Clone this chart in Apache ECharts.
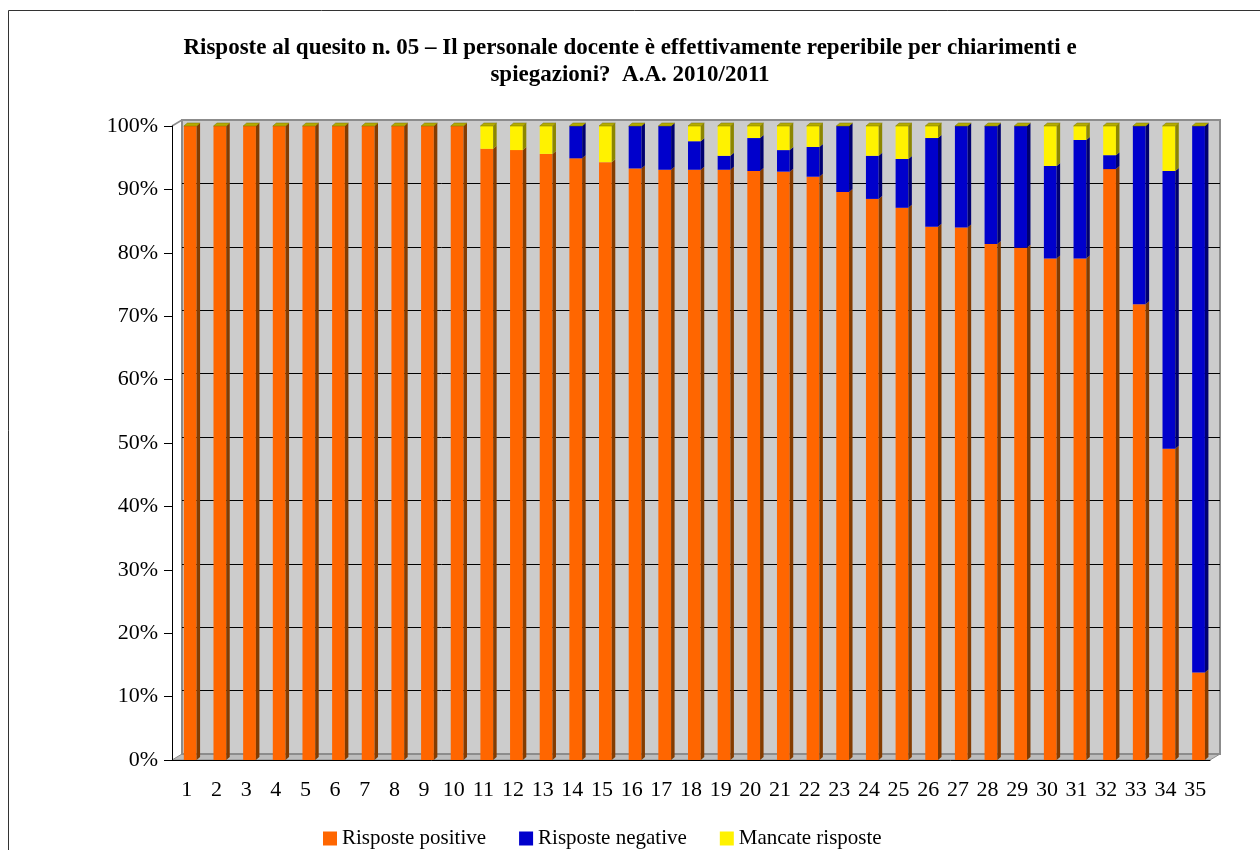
<!DOCTYPE html>
<html>
<head>
<meta charset="utf-8">
<script src="https://cdn.jsdelivr.net/npm/echarts@6/dist/echarts.min.js"></script>
<style>
  html, body { margin: 0; padding: 0; background: #fff; }
  #main { width: 1260px; height: 850px; }
</style>
</head>
<body>
<div id="main"></div>
<script>
// dati (percentuali)
var categorie = [];
for (var k = 1; k <= 35; k++) categorie.push(String(k));

var positive = [100, 100, 100, 100, 100, 100, 100, 100, 100, 100,
  96.4, 96.2, 95.6, 94.9, 94.3, 93.3, 93.1, 93.1, 93.1, 92.9,
  92.8, 92.0, 89.6, 88.5, 87.1, 84.1, 84.0, 81.4, 80.8, 79.1,
  79.1, 93.2, 71.9, 49.1, 13.8];
var negative = [0, 0, 0, 0, 0, 0, 0, 0, 0, 0,
  0, 0, 0, 5.1, 0, 6.7, 6.9, 4.5, 2.2, 5.2,
  3.4, 4.7, 10.4, 6.8, 7.7, 14.0, 16.0, 18.6, 19.2, 14.6,
  18.7, 2.2, 28.1, 43.8, 86.2];
var mancate = [0, 0, 0, 0, 0, 0, 0, 0, 0, 0,
  3.6, 3.8, 4.4, 0, 5.7, 0, 0, 2.4, 4.7, 1.9,
  3.8, 3.3, 0, 4.7, 5.2, 1.9, 0, 0, 0, 6.3,
  2.2, 4.6, 0, 7.1, 0];

var nomi = ['Risposte positive', 'Risposte negative', 'Mancate risposte'];
var colori = ['#FF6600', '#0000CC', '#FFF200'];
var lati = ['#843C00', '#000070', '#8C8600'];
var topColor = '#B5AC00';

var serie = [positive, negative, mancate];

// impila a mano: ogni punto = [indice, base, valore]
function build(idx) {
  var out = [];
  for (var i = 0; i < categorie.length; i++) {
    var base = 0;
    for (var j = 0; j < idx; j++) base += serie[j][i];
    out.push([i, base, serie[idx][i]]);
  }
  return out;
}

function makeRender(idx) {
  return function (params, api) {
    var i = api.value(0), base = api.value(1), val = api.value(2);
    var last = idx === serie.length - 1;
    if (val <= 0 && !last) return null;
    var p0 = api.coord([i, base]);
    var p1 = api.coord([i, base + val]);
    var cw = api.size([1, 0])[0];
    var w = cw * 0.43;
    var x = p0[0] - 3;
    var dx = 3.5, dy = -3;
    var children = [];
    if (val > 0) {
      children.push({
        type: 'rect',
        shape: { x: x, y: p1[1], width: w, height: p0[1] - p1[1] },
        style: { fill: colori[idx] }
      });
      children.push({
        type: 'polygon',
        shape: { points: [[x + w, p0[1]], [x + w + dx, p0[1] + dy], [x + w + dx, p1[1] + dy], [x + w, p1[1]]] },
        style: { fill: lati[idx] }
      });
    }
    if (last) {
      children.push({
        type: 'polygon',
        shape: { points: [[x, p1[1]], [x + dx, p1[1] + dy], [x + w + dx, p1[1] + dy], [x + w, p1[1]]] },
        style: { fill: topColor, stroke: '#7a7400', lineWidth: 0.5 }
      });
    }
    return { type: 'group', children: children };
  };
}

var dom = document.getElementById('main');
var myChart = echarts.init(dom, null, { renderer: 'canvas' });

var serif = '"Liberation Serif", "DejaVu Serif", serif';
var titoloStile = { fontFamily: serif, fontWeight: 'bold', fontSize: 23, color: '#000' };

var option = {
  animation: false,
  backgroundColor: '#fff',
  title: [
    {
      text: 'Risposte al quesito n. 05 – Il personale docente è effettivamente reperibile per chiarimenti e',
      left: 'center', top: 32, textStyle: titoloStile
    },
    {
      text: 'spiegazioni?  A.A. 2010/2011',
      left: 'center', top: 59, textStyle: titoloStile
    }
  ],
  legend: {
    data: nomi,
    left: 323,
    top: 828,
    icon: 'rect',
    itemWidth: 14,
    itemHeight: 14,
    itemGap: 33,
    padding: 0,
    textStyle: { fontFamily: serif, fontSize: 21, color: '#000' }
  },
  grid: [
    { left: 172, right: 50, top: 126, bottom: 90, show: false },
    { left: 182, right: 40, top: 120, bottom: 96, show: true, backgroundColor: '#CCCCCC', borderColor: '#8C8C8C', borderWidth: 2, z: 0 }
  ],
  xAxis: [
    {
      type: 'category', gridIndex: 0, data: categorie,
      axisLine: { lineStyle: { color: '#000' } },
      axisTick: { length: 10, lineStyle: { color: '#000' } },
      axisLabel: { fontFamily: serif, fontSize: 22, color: '#000', margin: 19 }
    },
    { type: 'category', gridIndex: 1, data: categorie, show: false }
  ],
  yAxis: [
    {
      type: 'value', gridIndex: 0, min: 0, max: 100, interval: 10,
      axisLine: { show: true, lineStyle: { color: '#000' } },
      axisTick: { show: true, length: 8, lineStyle: { color: '#000' } },
      splitLine: { show: false },
      axisLabel: { formatter: '{value}%', fontFamily: serif, fontSize: 22, color: '#000', margin: 14 }
    },
    {
      type: 'value', gridIndex: 1, min: 0, max: 100, interval: 10,
      axisLine: { show: false }, axisTick: { show: false }, axisLabel: { show: false },
      splitLine: { show: true, showMinLine: false, showMaxLine: false, lineStyle: { color: '#000', width: 1 } }
    }
  ],
  graphic: [
    { type: 'rect', shape: { x: 8.5, y: 10.5, width: 1400, height: 1000 }, style: { fill: 'none', stroke: '#333', lineWidth: 1 }, z: -10 },
    { type: 'polygon', shape: { points: [[172, 760], [182, 754], [1220, 754], [1210, 760]] }, style: { fill: '#BDBDBD', stroke: '#8C8C8C', lineWidth: 1 }, z: -1 },
    { type: 'line', shape: { x1: 172, y1: 126, x2: 182, y2: 120 }, style: { stroke: '#8C8C8C', lineWidth: 1.5 }, z: -1 }
  ],
  series: nomi.map(function (n, idx) {
    return {
      name: n,
      type: 'custom',
      xAxisIndex: 0,
      yAxisIndex: 0,
      itemStyle: { color: colori[idx] },
      renderItem: makeRender(idx),
      encode: { x: 0, y: 2 },
      data: build(idx),
      z: 5
    };
  })
};

myChart.setOption(option);
window.addEventListener('resize', myChart.resize);
</script>
</body>
</html>
